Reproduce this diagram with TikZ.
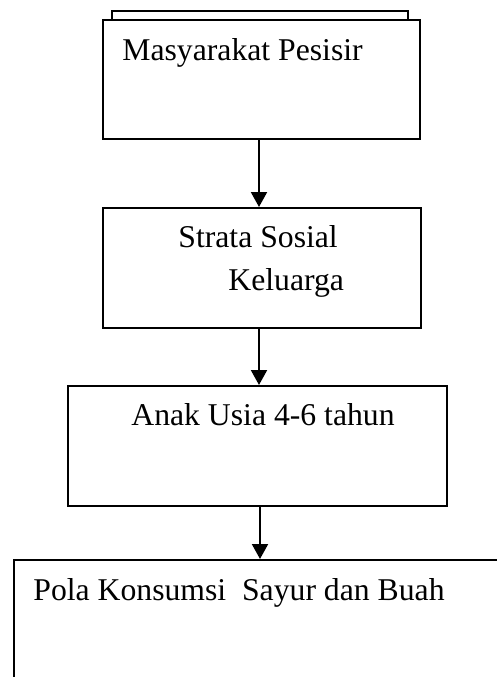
\documentclass[tikz,border=0pt]{standalone}
\usepackage{fontspec}
\setmainfont{Liberation Serif}
\usetikzlibrary{arrows.meta}
\begin{document}
\begin{tikzpicture}[x=0.5pt,y=-0.5pt,
  font=\fontsize{15.85pt}{19pt}\selectfont,
  box/.style={draw,line width=1pt,fill=white,inner sep=0pt,anchor=north west},
  label/.style={anchor=base west,inner sep=0pt},
  arr/.style={line width=1pt,-{Triangle[length=7.5pt,width=8pt]}}]
\useasboundingbox (0,0) rectangle (497,677);
\clip (0,0) rectangle (497,677);
% boxes
\node[box,minimum width=148pt,minimum height=20pt] (b0) at (111,10) {};
\node[box,minimum width=158.5pt,minimum height=59.5pt] (b1) at (102,19) {};
\node[box,minimum width=159pt,minimum height=60pt] (b2) at (102,207) {};
\node[box,minimum width=189.5pt,minimum height=60pt] (b3) at (67,385) {};
\node[box,minimum width=320pt,minimum height=100pt] (b4) at (13,559) {};
% texts
\node[label] (t1) at (122,60) {Masyarakat Pesisir};
\node[label] (t2a) at (178,247) {Strata Sosial};
\node[label] (t2b) at (228,290) {Keluarga};
\node[label] (t3) at (131,425) {Anak Usia 4-6 tahun};
\node[label] (t4) at (33,600) {Pola Konsumsi\ \ Sayur dan Buah};
% arrows
\draw[arr] ([xshift=-1.25pt]b1.south) -- ([xshift=-1.25pt]b1.south |- b2.north);
\draw[arr] ([xshift=-1.5pt]b2.south) -- ([xshift=-1.5pt]b2.south |- b3.north);
\draw[arr] ([xshift=1.25pt]b3.south) -- ([xshift=1.25pt]b3.south |- b4.north);
\end{tikzpicture}
\end{document}
